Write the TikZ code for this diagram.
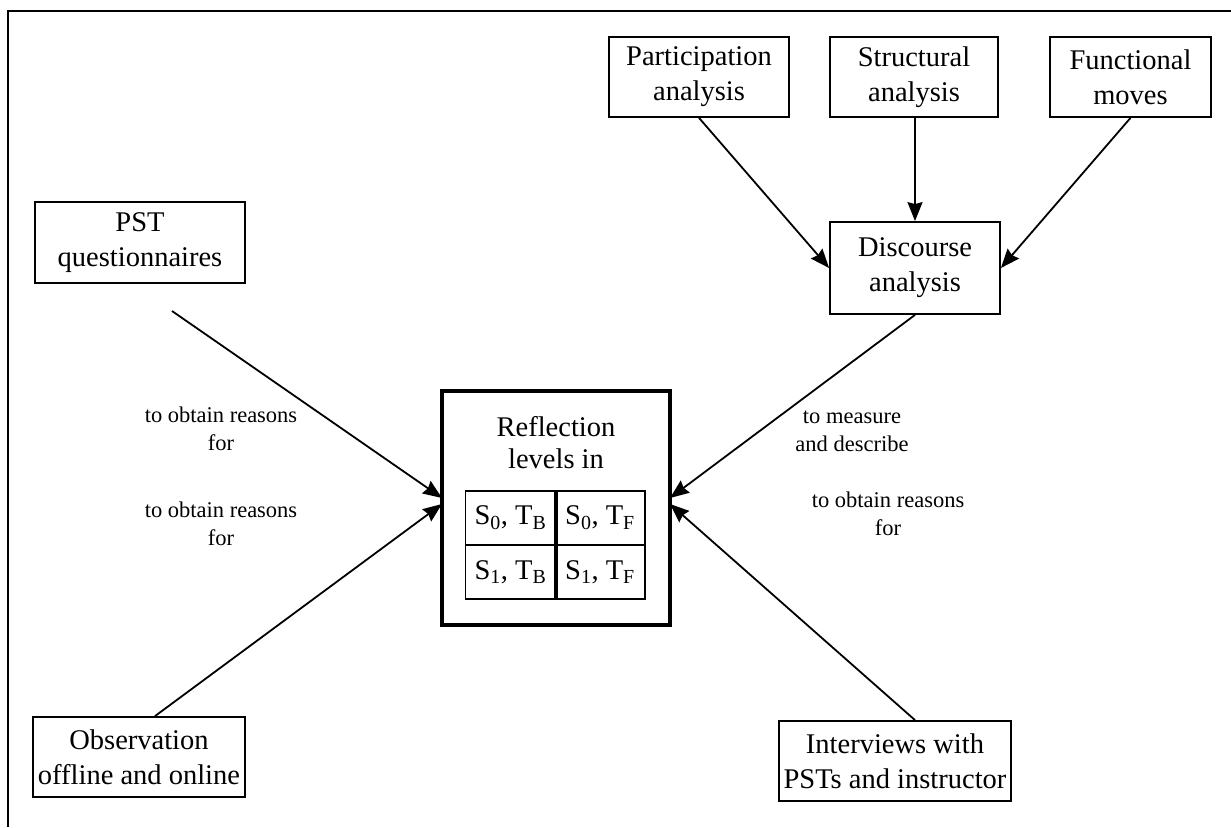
\documentclass[tikz,border=0pt]{standalone}
\usepackage{fontspec}
\setmainfont{Liberation Serif}
\usetikzlibrary{arrows.meta}
\begin{document}
\begin{tikzpicture}[x=1pt,y=-1pt,
  box/.style={draw,line width=1.8pt,minimum width=#1,align=center,inner sep=0pt,
    font=\fontsize{28.5}{35}\selectfont},
  box/.default=180pt,
  lbl/.style={align=center,inner sep=0pt,font=\fontsize{22.5}{28}\selectfont},
  conn/.style={line width=1.8pt,-{Stealth[length=19pt,width=15pt,inset=2pt]}},
  cell/.style={draw,line width=1.8pt,minimum width=90pt,minimum height=54pt,inner sep=0pt,
    font=\fontsize{28.5}{32}\selectfont}]
\useasboundingbox (0,0) rectangle (1231,827);
% frame (top and left edges)
\draw[line width=2pt] (8,827) -- (8,11) -- (1231,11);
% top row
\node[box=180pt,minimum height=80pt] (part) at (699,77) {Participation\\analysis};
\node[box=168pt,minimum height=80pt] (struc) at (914,77) {Structural\\analysis};
\node[box=161pt,minimum height=80pt] (func) at (1130.5,77) {Functional\\moves};
\node[box=170pt,minimum height=92pt] (disc) at (915,268) {Discourse\\analysis};
% left and bottom boxes
\node[box=210pt,minimum height=81pt] (pst) at (140,242.5) {PST\\questionnaires};
\node[box=212pt,minimum height=80pt] (obs) at (139,757) {Observation\\offline and online};
\node[box=232pt,minimum height=80pt] (intv) at (895,761) {Interviews with\\PSTs and instructor};
% centre box
\draw[line width=3.5pt] (442,391) rectangle (670,625);
\node[font=\fontsize{28.5}{32}\selectfont,align=center,inner sep=0pt] (refl) at (556,443) {Reflection\\levels in};
\node[cell] (c00) at (510.5,518) {S\textsubscript{0}, T\textsubscript{B}};
\node[cell] (c01) at (600,518) {S\textsubscript{0}, T\textsubscript{F}};
\node[cell] (c10) at (510.5,572) {S\textsubscript{1}, T\textsubscript{B}};
\node[cell] (c11) at (600,572) {S\textsubscript{1}, T\textsubscript{F}};
\draw[line width=3pt] (c00.north east) -- (c10.south east);
\coordinate (inL1) at (442,498);
\coordinate (inL2) at (442,504);
\coordinate (inR1) at (670,498);
\coordinate (inR2) at (670,504);
\coordinate (pstOut) at (172,311);
\path (obs.north) ++(16,0) coordinate (obsOut);
% connectors
\draw[conn] (part.south) -- (disc.west);
\draw[conn] (struc.south -| disc.north) -- (disc.north);
\draw[conn] (func.south) -- (disc.east);
\draw[conn] (disc.south) -- (inR1);
\draw[conn] (pstOut) -- (inL1);
\draw[conn] (obsOut) -- (inL2);
\draw[conn] (intv.north -| disc.south) -- (inR2);
% labels
\node[lbl] (l1) at (221,429) {to obtain reasons\\for};
\node[lbl] (l2) at (221,524) {to obtain reasons\\for};
\node[lbl] (l3) at (852,431) {to measure\\and describe};
\node[lbl] (l4) at (888,514) {to obtain reasons\\for};
\end{tikzpicture}
\end{document}
